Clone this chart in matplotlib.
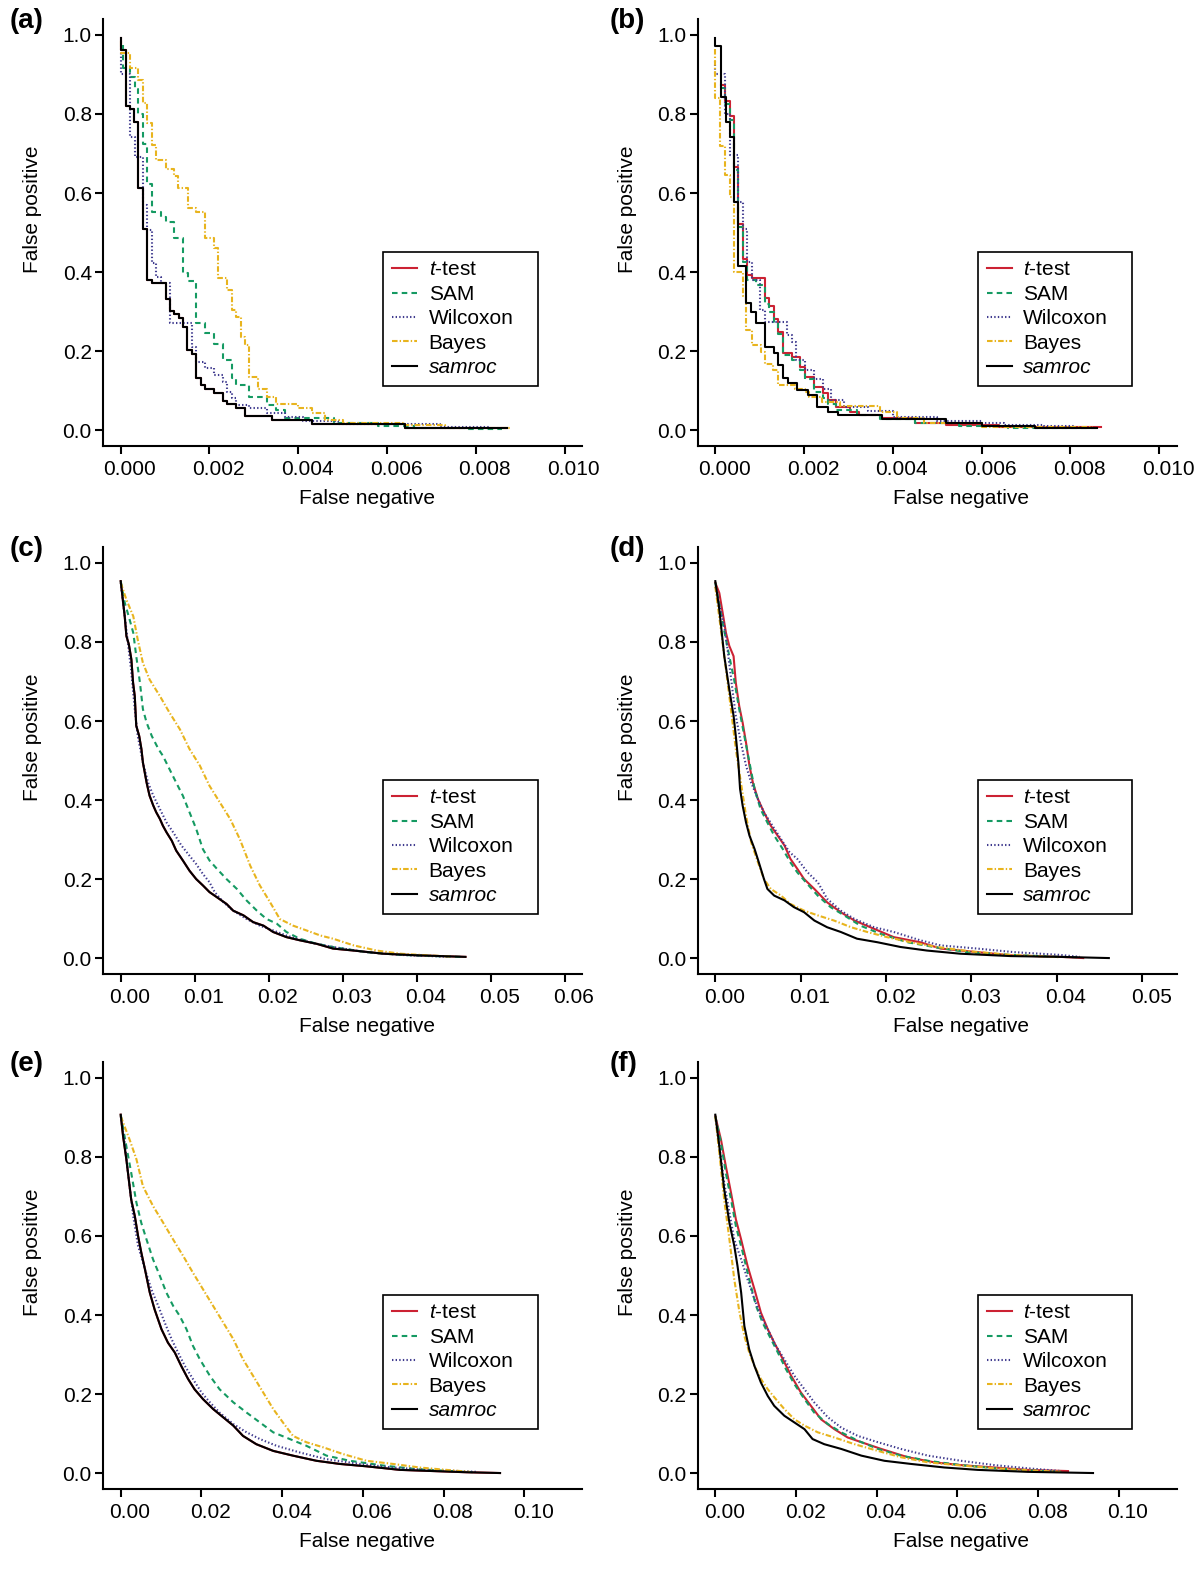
import matplotlib
matplotlib.use('Agg')
import matplotlib.pyplot as plt
from matplotlib.transforms import ScaledTranslation
import numpy as np

plt.rcParams['font.family'] = ['Liberation Sans', 'DejaVu Sans']
plt.rcParams['mathtext.fontset'] = 'custom'
plt.rcParams['mathtext.rm'] = 'Liberation Sans'
plt.rcParams['mathtext.it'] = 'Liberation Sans:italic'
plt.rcParams['lines.scale_dashes'] = False

metodos = ['t-test', 'SAM', 'Wilcoxon', 'Bayes', 'samroc']
rotulos = [r'$t$-test', 'SAM', 'Wilcoxon', 'Bayes', 'samroc']
cores = ['#cc2233', '#159a62', '#3f3a8e', '#e8b41e', '#000000']
estilos = ['-', (0, (4, 3)), (0, (1, 1.6)), (0, (4, 1.5, 1, 1.5)), '-']

# ---- painel (a) : degraus grossos
fn_a_samroc = [0, 0.00011, 0.00022, 0.0003, 0.00039, 0.0005, 0.0006, 0.00071, 0.00102, 0.0011, 0.00121,
               0.00131, 0.0014, 0.00149, 0.0016, 0.0017, 0.0018, 0.0019, 0.0021, 0.0023, 0.0024, 0.0026,
               0.0028, 0.0034, 0.0043, 0.0064, 0.0087]
fp_a_samroc = [0.992, 0.962, 0.82, 0.812, 0.78, 0.612, 0.51, 0.381, 0.371, 0.332, 0.302,
               0.293, 0.283, 0.262, 0.203, 0.192, 0.133, 0.114, 0.104, 0.095, 0.073, 0.065,
               0.055, 0.035, 0.025, 0.015, 0.006]
fn_a_ttest = list(fn_a_samroc)
fp_a_ttest = list(fp_a_samroc)
fn_a_sam = [0.00005, 0.00022, 0.00032, 0.0004, 0.0005, 0.0006, 0.00071, 0.0009, 0.00102, 0.00121, 0.0014,
            0.00151, 0.0017, 0.0019, 0.0021, 0.0023, 0.0025, 0.0026, 0.0029, 0.0033, 0.0035, 0.0037,
            0.0048, 0.0058, 0.0066, 0.0078, 0.0086]
fp_a_sam = [0.975, 0.916, 0.893, 0.862, 0.8, 0.724, 0.623, 0.553, 0.54, 0.527, 0.485,
            0.397, 0.376, 0.27, 0.245, 0.219, 0.177, 0.131, 0.114, 0.084, 0.063, 0.051,
            0.03, 0.018, 0.01, 0.005, 0.003]
fn_a_wilcoxon = [0, 0.00022, 0.00032, 0.0005, 0.0006, 0.00071, 0.0008, 0.0009, 0.0011, 0.0016, 0.0017,
                 0.0019, 0.0021, 0.0023, 0.0024, 0.0025, 0.0026, 0.0029, 0.0033, 0.0037, 0.0041, 0.0049,
                 0.0072, 0.0083]
fp_a_wilcoxon = [0.954, 0.901, 0.743, 0.692, 0.57, 0.506, 0.422, 0.388, 0.372, 0.272, 0.211,
                 0.173, 0.156, 0.139, 0.122, 0.097, 0.08, 0.063, 0.055, 0.042, 0.034, 0.024,
                 0.015, 0.008]
fn_a_bayes = [0, 0.00022, 0.0004, 0.0005, 0.0006, 0.00071, 0.0008, 0.00102, 0.00121, 0.0013, 0.00151,
              0.0017, 0.0019, 0.0021, 0.0022, 0.0024, 0.0025, 0.0026, 0.0027, 0.0028, 0.0029, 0.0031,
              0.0033, 0.0035, 0.004, 0.0043, 0.0046, 0.005, 0.0064, 0.0073, 0.0088]
fp_a_bayes = [0.985, 0.954, 0.916, 0.886, 0.827, 0.776, 0.722, 0.684, 0.662, 0.643, 0.612,
              0.561, 0.553, 0.485, 0.46, 0.384, 0.354, 0.304, 0.287, 0.236, 0.215, 0.135,
              0.105, 0.084, 0.065, 0.057, 0.044, 0.025, 0.019, 0.013, 0.006]

# ---- painel (b)
fn_b_samroc = [0, 0.00012, 0.00024, 0.00033, 0.00042, 0.00051, 0.00069, 0.0008, 0.00091, 0.00112, 0.00133,
               0.00142, 0.00152, 0.00164, 0.00185, 0.00208, 0.00228, 0.00254, 0.00276, 0.00375, 0.0052,
               0.006, 0.0072, 0.0086]
fp_b_samroc = [0.992, 0.973, 0.842, 0.78, 0.741, 0.578, 0.414, 0.321, 0.3, 0.27, 0.211,
               0.194, 0.165, 0.131, 0.118, 0.101, 0.089, 0.059, 0.046, 0.038, 0.028,
               0.017, 0.01, 0.005]
fn_b_ttest = [0.00012, 0.00022, 0.00032, 0.00041, 0.00052, 0.00062, 0.00072, 0.00082, 0.00112, 0.00122,
              0.00132, 0.00142, 0.00153, 0.00172, 0.00191, 0.00203, 0.00222, 0.00243, 0.00254, 0.00273,
              0.00303, 0.00323, 0.0037, 0.0045, 0.0052, 0.0064, 0.0087]
fp_b_ttest = [0.874, 0.874, 0.834, 0.794, 0.665, 0.522, 0.434, 0.393, 0.385, 0.333,
              0.314, 0.282, 0.249, 0.195, 0.185, 0.16, 0.135, 0.11, 0.093, 0.076,
              0.059, 0.046, 0.038, 0.03, 0.019, 0.014, 0.008]
fn_b_sam = [0.00012, 0.00022, 0.00032, 0.00041, 0.00052, 0.00062, 0.00072, 0.00092, 0.00112, 0.00122,
            0.00132, 0.00142, 0.00153, 0.00172, 0.00191, 0.00203, 0.00222, 0.00243, 0.00254, 0.00273,
            0.0032, 0.0037, 0.0045, 0.0055, 0.0066, 0.0086]
fp_b_sam = [0.865, 0.865, 0.825, 0.785, 0.657, 0.514, 0.425, 0.38, 0.366, 0.32,
            0.3, 0.274, 0.244, 0.19, 0.177, 0.152, 0.13, 0.097, 0.08, 0.067,
            0.05, 0.038, 0.028, 0.017, 0.01, 0.005]
fn_b_wilcoxon = [0, 0.00022, 0.00032, 0.00052, 0.00062, 0.00072, 0.00082, 0.001, 0.00112, 0.00161,
                 0.00172, 0.00182, 0.00203, 0.00222, 0.00243, 0.0026, 0.0029, 0.00345, 0.004, 0.005,
                 0.006, 0.0065, 0.0074, 0.0081]
fp_b_wilcoxon = [0.935, 0.9, 0.8, 0.695, 0.577, 0.51, 0.425, 0.38, 0.303, 0.274,
                 0.24, 0.223, 0.177, 0.152, 0.13, 0.105, 0.076, 0.059, 0.048, 0.034,
                 0.023, 0.017, 0.013, 0.01]
fn_b_bayes = [0, 0.0001, 0.00022, 0.00032, 0.00042, 0.00062, 0.0007, 0.00082, 0.00102, 0.00112, 0.0013,
              0.00142, 0.0018, 0.00202, 0.0021, 0.0024, 0.0028, 0.0037, 0.0041, 0.0047, 0.006, 0.0085]
fp_b_bayes = [0.965, 0.84, 0.72, 0.645, 0.59, 0.40, 0.34, 0.253, 0.215, 0.198, 0.168,
              0.152, 0.114, 0.105, 0.097, 0.084, 0.072, 0.06, 0.045, 0.03, 0.018, 0.008]

# ---- painel (c) : degraus finos
fn_c_samroc = [0, 0.00054, 0.00077, 0.0011, 0.00144, 0.00167, 0.0019, 0.0021, 0.0025, 0.0028, 0.003,
               0.0035, 0.0039, 0.0044, 0.0048, 0.0053, 0.0057, 0.0062, 0.0069, 0.0075, 0.0084, 0.0093,
               0.0102, 0.0111, 0.012, 0.013, 0.0143, 0.0152, 0.0166, 0.0179, 0.0193, 0.0206, 0.0224,
               0.0242, 0.0265, 0.0287, 0.0315, 0.0355, 0.04, 0.0466]
fp_c_samroc = [0.954, 0.865, 0.815, 0.794, 0.756, 0.697, 0.663, 0.588, 0.562, 0.529, 0.495,
               0.444, 0.411, 0.386, 0.369, 0.352, 0.335, 0.318, 0.297, 0.272, 0.247, 0.221,
               0.2, 0.184, 0.167, 0.154, 0.137, 0.12, 0.108, 0.091, 0.082, 0.066, 0.053,
               0.045, 0.036, 0.024, 0.019, 0.011, 0.007, 0.003]
fn_c_ttest = list(fn_c_samroc)
fp_c_ttest = list(fp_c_samroc)
fn_c_sam = [0, 0.00054, 0.0012, 0.0017, 0.0021, 0.0026, 0.003, 0.0035, 0.0042, 0.0051, 0.0057,
            0.0066, 0.0075, 0.0084, 0.0093, 0.0102, 0.0111, 0.012, 0.013, 0.0143, 0.0157, 0.017,
            0.0184, 0.0197, 0.0211, 0.0224, 0.0242, 0.0265, 0.0287, 0.0332, 0.0378, 0.0423, 0.046]
fp_c_sam = [0.954, 0.9, 0.857, 0.823, 0.764, 0.697, 0.63, 0.596, 0.562, 0.529, 0.512,
            0.478, 0.444, 0.411, 0.369, 0.327, 0.276, 0.247, 0.226, 0.2, 0.175, 0.146,
            0.12, 0.099, 0.087, 0.066, 0.049, 0.036, 0.028, 0.015, 0.008, 0.005, 0.003]
fn_c_wilcoxon = [0, 0.00077, 0.0014, 0.0019, 0.0023, 0.003, 0.0037, 0.0044, 0.0053, 0.0062, 0.0071,
                 0.0082, 0.0093, 0.0102, 0.0111, 0.012, 0.0127, 0.0139, 0.0152, 0.017, 0.0188, 0.0206,
                 0.0224, 0.0242, 0.026, 0.0287, 0.0332, 0.0378, 0.0445]
fp_c_wilcoxon = [0.95, 0.83, 0.73, 0.63, 0.562, 0.495, 0.444, 0.411, 0.377, 0.343, 0.318,
                 0.285, 0.259, 0.238, 0.213, 0.192, 0.167, 0.141, 0.12, 0.099, 0.082, 0.07,
                 0.057, 0.047, 0.038, 0.028, 0.015, 0.008, 0.003]
fn_c_bayes = [0, 0.00077, 0.0017, 0.0023, 0.003, 0.0039, 0.0053, 0.0066, 0.008, 0.0093, 0.0107,
              0.012, 0.0134, 0.0148, 0.0161, 0.0175, 0.0188, 0.0202, 0.0215, 0.0233, 0.0251, 0.027,
              0.0287, 0.0315, 0.0346, 0.0378, 0.0414, 0.0445]
fp_c_bayes = [0.95, 0.907, 0.865, 0.806, 0.747, 0.705, 0.663, 0.621, 0.579, 0.529, 0.487,
              0.436, 0.394, 0.352, 0.301, 0.234, 0.184, 0.141, 0.099, 0.082, 0.07, 0.057,
              0.049, 0.032, 0.019, 0.011, 0.007, 0.004]

# ---- painel (d)
fn_d_samroc = [0, 0.00047, 0.00105, 0.00164, 0.00214, 0.0024, 0.0027, 0.0029, 0.0032, 0.0036, 0.004,
               0.0046, 0.0051, 0.0057, 0.0061, 0.0069, 0.0081, 0.0092, 0.0104, 0.0116, 0.0131, 0.0147,
               0.0166, 0.019, 0.0217, 0.0248, 0.0287, 0.0346, 0.0404, 0.0461]
fp_d_samroc = [0.954, 0.882, 0.764, 0.68, 0.613, 0.562, 0.495, 0.428, 0.386, 0.343, 0.31,
               0.276, 0.242, 0.2, 0.175, 0.158, 0.146, 0.129, 0.116, 0.095, 0.078, 0.066,
               0.049, 0.04, 0.028, 0.019, 0.011, 0.005, 0.003, 0.0]
fn_d_ttest = [0, 0.00047, 0.00086, 0.00125, 0.00164, 0.00214, 0.0024, 0.0028, 0.0032, 0.0036, 0.004,
              0.0044, 0.005, 0.0057, 0.0065, 0.0073, 0.0081, 0.0088, 0.0096, 0.0104, 0.0116, 0.0131,
              0.0147, 0.0163, 0.0186, 0.0209, 0.024, 0.0264, 0.0307, 0.0346, 0.0404, 0.0431]
fp_d_ttest = [0.95, 0.924, 0.874, 0.823, 0.79, 0.764, 0.697, 0.638, 0.596, 0.545, 0.487,
              0.444, 0.402, 0.369, 0.335, 0.31, 0.285, 0.251, 0.226, 0.2, 0.175, 0.141,
              0.116, 0.095, 0.074, 0.053, 0.04, 0.024, 0.015, 0.007, 0.003, 0.0]
fn_d_sam = [0, 0.00086, 0.00164, 0.0022, 0.0028, 0.0034, 0.004, 0.0046, 0.0053, 0.0061, 0.0069,
            0.0079, 0.0088, 0.0096, 0.0106, 0.012, 0.0135, 0.0151, 0.017, 0.0194, 0.0225, 0.0256,
            0.0295, 0.0346, 0.0404, 0.0424]
fp_d_sam = [0.95, 0.848, 0.764, 0.705, 0.63, 0.562, 0.495, 0.428, 0.377, 0.343, 0.31,
            0.276, 0.242, 0.217, 0.192, 0.158, 0.129, 0.108, 0.082, 0.061, 0.04, 0.028,
            0.015, 0.008, 0.003, 0.002]
fn_d_wilcoxon = [0, 0.00105, 0.00144, 0.002, 0.0024, 0.003, 0.0036, 0.0042, 0.005, 0.0057, 0.0067,
                 0.0077, 0.0087, 0.0096, 0.0108, 0.012, 0.0131, 0.0147, 0.0163, 0.0186, 0.0209, 0.024,
                 0.0264, 0.0307, 0.035, 0.0404, 0.0427]
fp_d_wilcoxon = [0.94, 0.84, 0.78, 0.68, 0.613, 0.545, 0.487, 0.444, 0.402, 0.369, 0.335,
                 0.301, 0.268, 0.251, 0.217, 0.192, 0.15, 0.12, 0.099, 0.078, 0.066, 0.045,
                 0.032, 0.024, 0.015, 0.008, 0.003]
fn_d_bayes = [0, 0.00066, 0.00125, 0.00183, 0.0024, 0.003, 0.0036, 0.0042, 0.005, 0.0057, 0.0065,
              0.0077, 0.0088, 0.0104, 0.012, 0.0139, 0.0159, 0.0178, 0.0201, 0.0229, 0.026, 0.0299,
              0.0346, 0.0404]
fp_d_bayes = [0.94, 0.83, 0.73, 0.63, 0.529, 0.444, 0.36, 0.293, 0.242, 0.2, 0.175,
              0.158, 0.137, 0.12, 0.108, 0.095, 0.078, 0.066, 0.053, 0.04, 0.028, 0.017,
              0.008, 0.002]

# ---- painel (e)
fn_e_samroc = [0, 0.00058, 0.0014, 0.0026, 0.0035, 0.0043, 0.0051, 0.006, 0.0072, 0.0084, 0.0101,
               0.0117, 0.0134, 0.015, 0.0167, 0.0183, 0.0204, 0.0229, 0.0254, 0.0279, 0.0303, 0.0336,
               0.0378, 0.0427, 0.0485, 0.0543, 0.0609, 0.0692, 0.0774, 0.0857, 0.094]
fp_e_samroc = [0.907, 0.853, 0.794, 0.692, 0.65, 0.6, 0.558, 0.516, 0.457, 0.414, 0.364,
               0.33, 0.305, 0.271, 0.238, 0.212, 0.187, 0.162, 0.141, 0.12, 0.094, 0.073,
               0.056, 0.044, 0.031, 0.023, 0.017, 0.008, 0.005, 0.002, 0.0]
fn_e_ttest = list(fn_e_samroc)
fp_e_ttest = list(fp_e_samroc)
fn_e_sam = [0, 0.0014, 0.0026, 0.0039, 0.0051, 0.0064, 0.008, 0.0097, 0.0113, 0.013, 0.0146,
            0.0163, 0.0179, 0.0196, 0.0221, 0.0245, 0.0279, 0.0312, 0.0345, 0.0378, 0.0419, 0.046,
            0.051, 0.0568, 0.065, 0.0733, 0.0816, 0.0874]
fp_e_sam = [0.907, 0.827, 0.76, 0.684, 0.633, 0.591, 0.541, 0.499, 0.457, 0.423, 0.398,
            0.364, 0.322, 0.288, 0.246, 0.212, 0.179, 0.153, 0.128, 0.103, 0.086, 0.069,
            0.044, 0.031, 0.019, 0.01, 0.005, 0.002]
fn_e_wilcoxon = [0, 0.001, 0.0018, 0.0031, 0.0043, 0.006, 0.0076, 0.0093, 0.0109, 0.0126, 0.0142,
                 0.0159, 0.0179, 0.02, 0.0221, 0.0245, 0.0279, 0.0312, 0.0345, 0.0386, 0.0444, 0.051,
                 0.0593, 0.0675, 0.0758, 0.084, 0.0882]
fp_e_wilcoxon = [0.903, 0.836, 0.76, 0.65, 0.575, 0.516, 0.465, 0.423, 0.381, 0.339, 0.305,
                 0.271, 0.238, 0.204, 0.179, 0.153, 0.124, 0.103, 0.086, 0.069, 0.052, 0.035,
                 0.023, 0.014, 0.008, 0.005, 0.003]
fn_e_bayes = [0, 0.0022, 0.0039, 0.0055, 0.008, 0.0105, 0.013, 0.0155, 0.0179, 0.0204, 0.0229,
              0.0254, 0.0279, 0.0303, 0.0328, 0.0353, 0.0378, 0.0402, 0.0427, 0.046, 0.0502, 0.0551,
              0.0609, 0.0675, 0.0741, 0.0807, 0.0865]
fp_e_bayes = [0.903, 0.844, 0.794, 0.726, 0.676, 0.634, 0.591, 0.549, 0.507, 0.465, 0.423,
              0.381, 0.339, 0.288, 0.246, 0.204, 0.162, 0.128, 0.094, 0.078, 0.065, 0.048,
              0.031, 0.023, 0.014, 0.008, 0.003]

# ---- painel (f)
fn_f_samroc = [0, 0.001, 0.0022, 0.0035, 0.0047, 0.0055, 0.0064, 0.0072, 0.0084, 0.0097, 0.0113,
               0.013, 0.0146, 0.0171, 0.0196, 0.0221, 0.0241, 0.027, 0.0312, 0.0362, 0.0419, 0.0485,
               0.0568, 0.065, 0.0774, 0.0936]
fp_f_samroc = [0.907, 0.827, 0.718, 0.633, 0.575, 0.524, 0.457, 0.372, 0.313, 0.271, 0.229,
               0.195, 0.17, 0.145, 0.128, 0.111, 0.086, 0.073, 0.061, 0.044, 0.031, 0.023,
               0.014, 0.008, 0.003, 0.0]
fn_f_ttest = [0, 0.0014, 0.0026, 0.0039, 0.0051, 0.0064, 0.008, 0.0097, 0.0113, 0.013, 0.0146,
              0.0163, 0.0188, 0.0212, 0.0237, 0.0262, 0.0295, 0.0328, 0.0362, 0.0411, 0.0477, 0.0543,
              0.0609, 0.0692, 0.0774, 0.0874]
fp_f_ttest = [0.903, 0.844, 0.777, 0.709, 0.642, 0.591, 0.524, 0.465, 0.406, 0.364, 0.33,
              0.297, 0.246, 0.204, 0.17, 0.136, 0.111, 0.09, 0.078, 0.061, 0.04, 0.027,
              0.02, 0.014, 0.008, 0.005]
fn_f_sam = [0, 0.0014, 0.0026, 0.0039, 0.0051, 0.0068, 0.0084, 0.0101, 0.0117, 0.0134, 0.0155,
            0.0175, 0.0196, 0.0221, 0.0245, 0.0279, 0.0312, 0.0353, 0.0403, 0.046, 0.0527, 0.0609,
            0.0692, 0.0774, 0.0857]
fp_f_sam = [0.903, 0.836, 0.76, 0.692, 0.625, 0.558, 0.49, 0.423, 0.381, 0.347, 0.305,
            0.263, 0.225, 0.187, 0.153, 0.124, 0.103, 0.082, 0.061, 0.044, 0.031, 0.02,
            0.012, 0.007, 0.003]
fn_f_wilcoxon = [0, 0.001, 0.0022, 0.0035, 0.0047, 0.0064, 0.008, 0.0097, 0.0113, 0.013, 0.015,
                 0.0171, 0.0196, 0.0221, 0.0245, 0.0279, 0.0312, 0.0353, 0.0403, 0.046, 0.0527, 0.0609,
                 0.0692, 0.0774, 0.0857]
fp_f_wilcoxon = [0.903, 0.827, 0.735, 0.659, 0.591, 0.541, 0.49, 0.44, 0.398, 0.364, 0.322,
                 0.288, 0.246, 0.212, 0.179, 0.141, 0.115, 0.094, 0.078, 0.061, 0.044, 0.031,
                 0.02, 0.012, 0.005]
fn_f_bayes = [0, 0.001, 0.0022, 0.0035, 0.0047, 0.006, 0.0072, 0.0084, 0.0097, 0.0113, 0.013,
              0.015, 0.0171, 0.0196, 0.0221, 0.0254, 0.0295, 0.0345, 0.0403, 0.046, 0.0527, 0.0609,
              0.0692, 0.0774, 0.0857]
fp_f_bayes = [0.903, 0.81, 0.692, 0.591, 0.49, 0.406, 0.347, 0.305, 0.271, 0.238, 0.212,
              0.187, 0.162, 0.136, 0.12, 0.103, 0.09, 0.073, 0.056, 0.04, 0.027, 0.019,
              0.012, 0.007, 0.003]

# limite do eixo x, passo dos ticks e formato de cada painel
xmax_paineis = {'a': 0.010, 'b': 0.010, 'c': 0.06, 'd': 0.052, 'e': 0.11, 'f': 0.11}
xticks_paineis = {'a': (0.010, 0.002), 'b': (0.010, 0.002), 'c': (0.06, 0.01),
                  'd': (0.05, 0.01), 'e': (0.10, 0.02), 'f': (0.10, 0.02)}
formatos = {'a': '%.3f', 'b': '%.3f', 'c': '%.2f', 'd': '%.2f', 'e': '%.2f', 'f': '%.2f'}


def fazer_painel(fig, pos, letra, degraus, x_letra):
    ax = fig.add_axes(pos)
    for metodo, cor, estilo, rotulo in zip(metodos, cores, estilos, rotulos):
        chave = metodo.replace('-', '').lower()
        fn = globals()['fn_%s_%s' % (letra, chave)]
        fp = globals()['fp_%s_%s' % (letra, chave)]
        ax.plot(fn, fp, color=cor, linestyle=estilo, lw=1.5, label=rotulo,
                drawstyle='steps-pre' if degraus else 'default')

    xmax = xmax_paineis[letra]
    ax.set_xlim(-0.04 * xmax, 1.04 * xmax)
    ax.set_ylim(-0.04, 1.04)
    fim, passo = xticks_paineis[letra]
    ticks = np.arange(0, fim + passo / 2, passo)
    ax.set_xticks(ticks)
    ax.set_xticklabels([formatos[letra] % t for t in ticks])
    ax.set_yticks(np.arange(0, 1.01, 0.2))
    ax.set_yticklabels(['%.1f' % t for t in np.arange(0, 1.01, 0.2)])

    for lado in ['top', 'right']:
        ax.spines[lado].set_visible(False)
    for lado in ['left', 'bottom']:
        ax.spines[lado].set_linewidth(1.5)
    ax.tick_params(axis='both', direction='out', length=6, width=1.5, labelsize=15)
    ax.tick_params(axis='x', pad=4)
    ax.tick_params(axis='y', pad=2)
    # os rotulos do eixo x estao um pouco deslocados para a direita no original
    desloc = ScaledTranslation(0.09, 0, fig.dpi_scale_trans)
    for lab in ax.get_xticklabels():
        lab.set_transform(lab.get_transform() + desloc)

    ax.set_xlabel('False negative', fontsize=15)
    ax.set_ylabel('False positive', fontsize=15)
    ax.xaxis.set_label_coords(0.55, -0.1)
    ax.yaxis.set_label_coords(-0.127, 0.555)

    leg = ax.legend(loc='upper left', bbox_to_anchor=(0.585, 0.0, 0.3215, 0.455), mode='expand',
                    fontsize=15, handlelength=1.2, handletextpad=0.55, labelspacing=0.26,
                    borderpad=0.42, borderaxespad=0, fancybox=False, framealpha=1)
    leg.get_frame().set_edgecolor('black')
    leg.get_frame().set_linewidth(1.2)
    leg.get_texts()[4].set_fontstyle('italic')

    fig.text(x_letra, pos[1] + pos[3] - 0.001, '(%s)' % letra,
             fontsize=20, fontweight='bold', ha='left', va='center')
    return ax


if __name__ == '__main__':
    fig = plt.figure(figsize=(12, 15.71), dpi=100)

    esq = [0.0858, 0.5813]
    x_letras = [0.008, 0.508]
    base = [0.7162, 0.3801, 0.0523]
    largura = 0.3995
    altura = 0.2716

    letras = ['a', 'b', 'c', 'd', 'e', 'f']
    for i, letra in enumerate(letras):
        pos = [esq[i % 2], base[i // 2], largura, altura]
        fazer_painel(fig, pos, letra, degraus=(i < 2), x_letra=x_letras[i % 2])

    plt.savefig('out.png', dpi=100)
